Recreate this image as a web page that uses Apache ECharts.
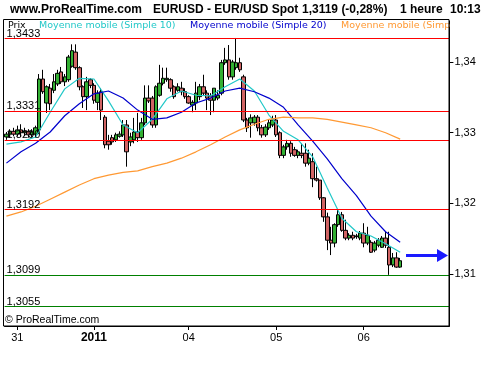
<!DOCTYPE html>
<html><head><meta charset="utf-8">
<script src="https://cdn.jsdelivr.net/npm/echarts@6/dist/echarts.min.js"></script>
<style>html,body{margin:0;padding:0;background:#fff}#c{width:500px;height:370px}</style>
</head><body><div id="c"></div>
<script>
// Hourly EUR/USD candles (index 0 = Dec 30 21:00, last = Jan 6 10:00): [open, close, low, high]
const candles = [
[1.3294,1.3298,1.3290,1.3301],[1.3298,1.3302,1.3293,1.3305],[1.3302,1.3298,1.3295,1.3307],[1.3298,1.3304,1.3295,1.3310],
[1.3304,1.3300,1.3294,1.3312],[1.3300,1.3302,1.3295,1.3307],[1.3302,1.3297,1.3293,1.3305],[1.3297,1.3301,1.3294,1.3305],
[1.3298,1.3307,1.3293,1.3310],[1.3304,1.3376,1.3298,1.3383],[1.3376,1.3358,1.3355,1.3389],[1.3342,1.3365,1.3328,1.3367],
[1.3363,1.3341,1.3332,1.3369],[1.3360,1.3372,1.3356,1.3383],[1.3369,1.3384,1.3366,1.3389],[1.3386,1.3372,1.3369,1.3393],
[1.3372,1.3379,1.3366,1.3383],[1.3375,1.3407,1.3372,1.3410],[1.3394,1.3416,1.3392,1.3425],[1.3414,1.3392,1.3389,1.3425],
[1.3392,1.3365,1.3360,1.3394],[1.3365,1.3351,1.3335,1.3367],[1.3351,1.3372,1.3332,1.3379],[1.3375,1.3367,1.3363,1.3377],
[1.3367,1.3346,1.3341,1.3370],[1.3343,1.3356,1.3332,1.3360],[1.3358,1.3332,1.3318,1.3363],[1.3322,1.3283,1.3278,1.3325],
[1.3288,1.3283,1.3276,1.3297],[1.3293,1.3287,1.3283,1.3297],[1.3290,1.3297,1.3287,1.3300],[1.3295,1.3298,1.3293,1.3302],
[1.3297,1.3311,1.3294,1.3318],[1.3311,1.3273,1.3252,1.3318],[1.3287,1.3294,1.3281,1.3300],[1.3290,1.3301,1.3285,1.3321],
[1.3301,1.3293,1.3287,1.3328],[1.3293,1.3314,1.3290,1.3321],[1.3314,1.3349,1.3311,1.3367],[1.3349,1.3345,1.3342,1.3367],
[1.3349,1.3311,1.3307,1.3352],[1.3311,1.3365,1.3307,1.3367],[1.3353,1.3370,1.3351,1.3396],[1.3370,1.3377,1.3367,1.3392],
[1.3375,1.3377,1.3372,1.3392],[1.3375,1.3363,1.3358,1.3377],[1.3365,1.3351,1.3348,1.3367],[1.3360,1.3365,1.3358,1.3370],
[1.3363,1.3358,1.3353,1.3372],[1.3358,1.3351,1.3348,1.3363],[1.3351,1.3342,1.3341,1.3353],[1.3339,1.3343,1.3329,1.3346],
[1.3342,1.3356,1.3332,1.3372],[1.3351,1.3365,1.3346,1.3369],[1.3365,1.3356,1.3353,1.3382],[1.3356,1.3349,1.3332,1.3360],
[1.3352,1.3346,1.3325,1.3356],[1.3346,1.3363,1.3329,1.3363],[1.3349,1.3353,1.3346,1.3360],[1.3356,1.3399,1.3353,1.3403],
[1.3399,1.3403,1.3396,1.3420],[1.3403,1.3379,1.3375,1.3424],[1.3379,1.3400,1.3375,1.3403],[1.3392,1.3399,1.3389,1.3434],
[1.3399,1.3389,1.3386,1.3406],[1.3379,1.3318,1.3315,1.3382],[1.3318,1.3307,1.3301,1.3321],[1.3314,1.3321,1.3293,1.3326],
[1.3314,1.3322,1.3310,1.3325],[1.3322,1.3307,1.3302,1.3325],[1.3307,1.3297,1.3293,1.3311],[1.3297,1.3308,1.3294,1.3312],
[1.3307,1.3314,1.3304,1.3318],[1.3311,1.3318,1.3308,1.3324],[1.3318,1.3297,1.3294,1.3325],[1.3300,1.3268,1.3264,1.3302],
[1.3268,1.3280,1.3264,1.3283],[1.3280,1.3285,1.3276,1.3290],[1.3285,1.3271,1.3266,1.3288],[1.3276,1.3268,1.3266,1.3280],
[1.3268,1.3273,1.3264,1.3276],[1.3271,1.3268,1.3264,1.3285],[1.3271,1.3257,1.3252,1.3285],[1.3257,1.3264,1.3254,1.3276],
[1.3259,1.3235,1.3223,1.3271],[1.3235,1.3233,1.3231,1.3252],[1.3233,1.3208,1.3205,1.3233],[1.3208,1.3181,1.3174,1.3209],
[1.3181,1.3148,1.3134,1.3187],[1.3148,1.3144,1.3127,1.3167],[1.3144,1.3170,1.3138,1.3172],[1.3170,1.3184,1.3167,1.3191],
[1.3184,1.3162,1.3160,1.3188],[1.3162,1.3151,1.3148,1.3177],[1.3151,1.3155,1.3148,1.3158],[1.3155,1.3151,1.3148,1.3160],
[1.3153,1.3154,1.3150,1.3157],[1.3151,1.3158,1.3148,1.3161],[1.3158,1.3144,1.3138,1.3172],[1.3144,1.3155,1.3141,1.3167],
[1.3145,1.3131,1.3130,1.3148],[1.3134,1.3144,1.3131,1.3147],[1.3141,1.3148,1.3138,1.3151],[1.3138,1.3151,1.3137,1.3154],
[1.3151,1.3141,1.3137,1.3160],[1.3138,1.3113,1.3099,1.3160],[1.3113,1.3123,1.3110,1.3130],[1.3123,1.3110,1.3109,1.3131],
[1.3110,1.3119,1.3109,1.3123]
];
// Moving averages read every 4th candle
const maIndex = [0,4,8,12,16,20,24,28,32,36,40,44,48,52,56,60,64,68,72,76,80,84,88,92,96,100,104,108];
const ma10 = [1.3284,1.3287,1.3294,1.3329,1.3362,1.3377,1.3376,1.3345,1.3311,1.3300,1.3319,1.3348,1.3359,1.3353,
              1.3352,1.3365,1.3376,1.3359,1.3325,1.3302,1.3290,1.3266,1.3222,1.3179,1.3160,1.3154,1.3143,1.3131];
const ma20 = [1.3257,1.3273,1.3285,1.3301,1.3324,1.3341,1.3355,1.3359,1.3349,1.3332,1.3319,1.3321,1.3329,1.3342,
              1.3349,1.3359,1.3363,1.3358,1.3349,1.3336,1.3311,1.3288,1.3263,1.3235,1.3211,1.3182,1.3160,1.3145];
const ma100 = [1.3182,1.3188,1.3196,1.3206,1.3216,1.3226,1.3235,1.3240,1.3244,1.3246,1.3252,1.3257,1.3264,1.3273,
               1.3283,1.3294,1.3304,1.3312,1.3319,1.3322,1.3321,1.3321,1.3319,1.3315,1.3311,1.3307,1.3300,1.3291];
// Horizontal price levels
const levelValues = [1.3433, 1.3331, 1.3290, 1.3192, 1.3099, 1.3055];
const levelColors = ['#ff0000','#ff0000','#ff0000','#ff0000','#008000','#008000'];
// Axis ticks
const slotCount = 122;
const xTickIndex = [3, 24, 50, 74, 98];
const xTickLabels = ['31', '2011', '04', '05', '06'];
const yTicks = [1.31, 1.32, 1.33, 1.34];

const categories = Array.from({length: slotCount}, (_, i) => String(i));
const fmt = (v, d) => v.toFixed(d).replace('.', ',');

const chart = echarts.init(document.getElementById('c'), null, {renderer: 'canvas'});
const txt = (x, y, s, font, color) => ({type: 'text', left: x, top: y, z: 100, silent: true,
  style: {text: s, font: font, fill: color}});
const HF = 'bold 12px "Liberation Sans", Arial, sans-serif';
const LF = '9.5px "DejaVu Sans", Verdana, sans-serif';

chart.setOption({
  animation: false,
  backgroundColor: '#fff',
  grid: {left: 4.6, right: 50.6, top: 21, bottom: 44, containLabel: false},
  xAxis: {
    type: 'category', data: categories, boundaryGap: true,
    axisLine: {show: true, lineStyle: {color: '#000', width: 1}},
    axisTick: {show: true, alignWithLabel: true, length: 4, lineStyle: {color: '#000'},
      interval: (i) => xTickIndex.includes(i)},
    axisLabel: {show: true, interval: (i) => xTickIndex.includes(i), margin: 6, color: '#000',
      fontFamily: '"Liberation Sans", Arial, sans-serif', fontSize: 11,
      formatter: (v, i) => { const k = xTickIndex.indexOf(i); if (k < 0) return '';
        return xTickLabels[k] === '2011' ? '{b|2011}' : xTickLabels[k]; },
      rich: {b: {fontWeight: 'bold', fontSize: 12, fontFamily: '"Liberation Sans", Arial, sans-serif', color: '#000'}}},
    splitLine: {show: false}
  },
  yAxis: {
    type: 'value', position: 'right', min: 1.30267, max: 1.3458, scale: true,
    splitLine: {show: false},
    axisLine: {show: true, lineStyle: {color: '#000'}},
    axisTick: {show: true, length: 4, customValues: yTicks, lineStyle: {color: '#000'}},
    axisLabel: {customValues: yTicks, formatter: (v) => fmt(v, 2), color: '#000', margin: 5,
      fontFamily: '"Liberation Sans", Arial, sans-serif', fontSize: 11}
  },
  series: [
    {
      name: 'levels', type: 'line', data: [], z: 1, silent: true,
      markLine: {
        silent: true, symbol: 'none', animation: false, precision: 4,
        data: levelValues.map((v, i) => ({
          yAxis: v,
          lineStyle: {color: levelColors[i], type: 'solid', width: 1},
          label: {show: true, position: 'insideStartTop', formatter: fmt(v, 4), color: '#000',
            fontFamily: '"Liberation Sans", Arial, sans-serif', fontSize: 11, distance: [2, -1], padding: 0}
        }))
      }
    },
    {
      name: 'Prix', type: 'candlestick', data: candles, z: 3, barWidth: 4,
      itemStyle: {color: '#33b033', color0: '#d06464', borderColor: '#000', borderColor0: '#000', borderWidth: 1}
    },
    {name: 'MM10', type: 'line', z: 4, showSymbol: false, data: maIndex.map((x, k) => [x, ma10[k]]),
      lineStyle: {color: '#22c8c8', width: 1.2}},
    {name: 'MM20', type: 'line', z: 4, showSymbol: false, data: maIndex.map((x, k) => [x, ma20[k]]),
      lineStyle: {color: '#0000cc', width: 1.2}},
    {name: 'MM100', type: 'line', z: 4, showSymbol: false, data: maIndex.map((x, k) => [x, ma100[k]]),
      lineStyle: {color: '#ff9933', width: 1.2}}
  ],
  graphic: [
    txt(10, 4, 'www.ProRealTime.com', HF, '#000'),
    txt(153, 4, 'EURUSD - EUR/USD Spot', HF, '#000'),
    txt(302, 4, '1,3119 (-0,28%)', HF, '#000'),
    txt(400, 4, '1 heure', HF, '#000'),
    txt(450, 4, '10:13', HF, '#000'),
    txt(8, 21, 'Prix', LF, '#000'),
    txt(39, 21, 'Moyenne mobile (Simple 10)', LF, '#22c8c8'),
    txt(190, 21, 'Moyenne mobile (Simple 20)', LF, '#0000cc'),
    txt(341, 21, 'Moyenne mobile (Simple 100)', LF, '#ff9933'),
    {type: 'rect', z: 101, silent: true, shape: {x: 450, y: 19, width: 50, height: 13}, style: {fill: '#fff'}},
    {type: 'rect', z: 102, silent: true, shape: {x: 3.5, y: 19.5, width: 445.5, height: 306.5},
      style: {fill: 'none', stroke: '#000', lineWidth: 1}},
    txt(5, 315, '\u00a9 ProRealTime.com', '10.5px "Liberation Sans", Arial, sans-serif', '#000'),
    {type: 'line', z: 100, silent: true, shape: {x1: 406, y1: 255.5, x2: 439, y2: 255.5},
      style: {stroke: '#1a1aff', lineWidth: 3}},
    {type: 'polygon', z: 100, silent: true, shape: {points: [[437, 249], [448, 255.5], [437, 262]]},
      style: {fill: '#1a1aff'}}
  ]
});
</script></body></html>
